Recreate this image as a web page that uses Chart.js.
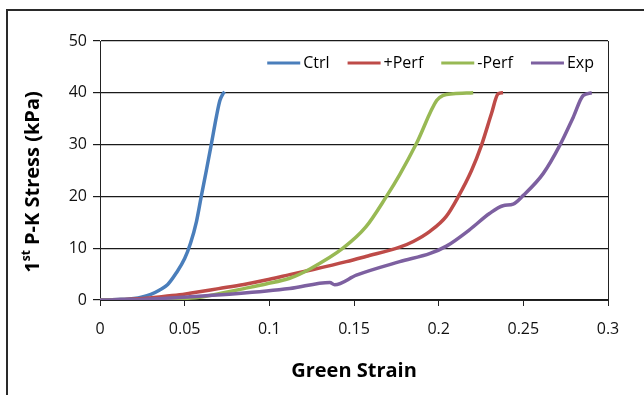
<!DOCTYPE html>
<html>
<head>
<meta charset="utf-8">
<script src="https://cdn.jsdelivr.net/npm/chart.js@4"></script>
<style>
  html, body { margin: 0; padding: 0; background: #fff; }
  #wrap { width: 644px; height: 395px; }
</style>
</head>
<body>
<div id="wrap"><canvas id="chart" width="644" height="395"></canvas></div>
<script>
// series (strain, stress in kPa)
const ctrlStrain = [0, 0.01, 0.02, 0.025, 0.03, 0.035, 0.04, 0.045, 0.05, 0.0535, 0.057, 0.0598, 0.0628, 0.0657, 0.0688, 0.0708, 0.0726, 0.0736];
const ctrlStress = [0, 0.1, 0.3, 0.6, 1.1, 1.9, 3.0, 5.2, 8.0, 11, 15.2, 20, 25, 30, 35.5, 38.5, 39.8, 40.2];

const plusStrain = [0, 0.02, 0.035, 0.047, 0.053, 0.07, 0.085, 0.098, 0.112, 0.126, 0.1455, 0.157, 0.177, 0.185, 0.195, 0.2046, 0.2115, 0.2194, 0.2253, 0.2312, 0.2351, 0.238];
const plusStress = [0, 0.2, 0.6, 1.0, 1.3, 2.2, 3.0, 3.85, 4.9, 5.9, 7.4, 8.4, 10.2, 11.3, 13.3, 16.2, 19.9, 25, 29.9, 36, 39.8, 40];

const minusStrain = [0, 0.03, 0.05, 0.06, 0.073, 0.085, 0.098, 0.112, 0.124, 0.1435, 0.157, 0.169, 0.177, 0.187, 0.1988, 0.2027, 0.2086, 0.2204];
const minusStress = [0, 0.05, 0.3, 0.6, 1.4, 2.2, 3.1, 4.2, 6.0, 10, 14.1, 19.9, 24.2, 30.3, 38.5, 39.5, 39.8, 40];

const expStrain = [0, 0.03, 0.053, 0.08, 0.112, 0.1357, 0.1386, 0.1514, 0.177, 0.195, 0.2046, 0.218, 0.230, 0.238, 0.244, 0.25, 0.2617, 0.2716, 0.2795, 0.2854, 0.2904];
const expStress = [0, 0.2, 0.64, 1.2, 2.2, 3.4, 2.95, 4.8, 7.4, 9.0, 10.4, 13.5, 16.7, 18.2, 18.5, 20.2, 24.4, 29.9, 35.3, 39.5, 40];

const seriesNames = ["Ctrl", "+Perf", "-Perf", "Exp"];
const seriesColors = ["#4A7EBB", "#BE4B48", "#98B954", "#7D60A0"];

const xTicks = [0, 0.05, 0.1, 0.15, 0.2, 0.25, 0.3];
const yTicks = [0, 10, 20, 30, 40, 50];

const FONT = "'Open Sans', sans-serif";

function pairs(xs, ys) {
    return xs.map((x, i) => ({x: x, y: ys[i]}));
}

let allData = [
    pairs(ctrlStrain, ctrlStress),
    pairs(plusStrain, plusStress),
    pairs(minusStrain, minusStress),
    pairs(expStrain, expStress)
];

let datasets = seriesNames.map((name, i) => ({
    label: name,
    data: allData[i],
    borderColor: seriesColors[i],
    backgroundColor: seriesColors[i],
    borderWidth: 3.5,
    pointRadius: 0,
    cubicInterpolationMode: "monotone",
    order: seriesNames.length - i   // later series drawn on top, like the original
}));

// frame, right border, y title and legend drawn by hand
const extras = {
    id: "extras",
    beforeDraw(chart) {
        let ctx = chart.ctx;
        ctx.save();
        ctx.fillStyle = "#fff";
        ctx.fillRect(0, 0, chart.width, chart.height);
        ctx.restore();
    },
    afterDraw(chart) {
        let ctx = chart.ctx;
        let a = chart.chartArea;
        ctx.save();

        // outer frame
        ctx.strokeStyle = "#2a2a2a";
        ctx.lineWidth = 2;
        ctx.strokeRect(7, 10, 700, 500);

        // right edge of plot
        ctx.strokeStyle = "#222";
        ctx.lineWidth = 1;
        ctx.beginPath();
        ctx.moveTo(Math.round(a.right) + 0.5, a.top);
        ctx.lineTo(Math.round(a.right) + 0.5, a.bottom);
        ctx.stroke();

        // y title with superscript
        ctx.fillStyle = "#000";
        ctx.textBaseline = "middle";
        let big = "bold 20px " + FONT;
        let small = "bold 12px " + FONT;
        ctx.font = big;
        let w1 = ctx.measureText("1").width;
        let w3 = ctx.measureText(" P-K Stress (kPa)").width;
        ctx.font = small;
        let w2 = ctx.measureText("st").width;
        let total = w1 + w2 + w3;
        ctx.translate(33, 182);
        ctx.rotate(-Math.PI / 2);
        let x = -total / 2;
        ctx.font = big;
        ctx.textAlign = "left";
        ctx.fillText("1", x, 0);
        ctx.font = small;
        ctx.fillText("st", x + w1, -6);
        ctx.font = big;
        ctx.fillText(" P-K Stress (kPa)", x + w1 + w2, 0);
        ctx.setTransform(1, 0, 0, 1, 0, 0);

        // legend inside the plot, top right
        ctx.font = "16px " + FONT;
        ctx.textAlign = "left";
        let lineLen = 33, gap = 3, spacing = 18;
        let widths = seriesNames.map(n => ctx.measureText(n).width);
        let full = widths.reduce((s, w) => s + lineLen + gap + w, 0) + spacing * (seriesNames.length - 1);
        let lx = 594 - full;
        let ly = a.top + 22;
        seriesNames.forEach((n, i) => {
            ctx.strokeStyle = seriesColors[i];
            ctx.lineWidth = 3;
            ctx.beginPath();
            ctx.moveTo(lx, ly);
            ctx.lineTo(lx + lineLen, ly);
            ctx.stroke();
            ctx.fillStyle = "#000";
            ctx.fillText(n, lx + lineLen + gap, ly);
            lx += lineLen + gap + widths[i] + spacing;
        });
        ctx.restore();
    }
};

new Chart(document.getElementById("chart"), {
    type: "line",
    data: {datasets: datasets},
    options: {
        responsive: false,
        animation: false,
        events: [],
        layout: {padding: {top: 41, right: 36, left: 0, bottom: 0}},
        plugins: {
            legend: {display: false},
            tooltip: {enabled: false}
        },
        scales: {
            x: {
                type: "linear",
                min: 0,
                max: 0.3,
                afterFit(s) { s.height = 95; },
                afterBuildTicks(s) { s.ticks = xTicks.map(v => ({value: v})); },
                grid: {drawOnChartArea: false, color: "#222", tickLength: 6},
                border: {color: "#222", width: 1},
                ticks: {
                    color: "#111",
                    font: {family: FONT, size: 16},
                    padding: 14,
                    maxRotation: 0,
                    callback: v => String(+v.toFixed(2))
                },
                title: {
                    display: true,
                    text: "Green Strain",
                    color: "#000",
                    font: {family: FONT, size: 20, weight: "bold"},
                    padding: {top: 0, bottom: 12}
                }
            },
            y: {
                type: "linear",
                min: 0,
                max: 50,
                afterFit(s) { s.width = 100; },
                afterBuildTicks(s) { s.ticks = yTicks.map(v => ({value: v})); },
                grid: {color: "#1a1a1a", lineWidth: 1.2, tickLength: 7},
                border: {color: "#222", width: 1},
                ticks: {
                    color: "#111",
                    font: {family: FONT, size: 16},
                    padding: 6
                }
            }
        }
    },
    plugins: [extras]
});
</script>
</body>
</html>
